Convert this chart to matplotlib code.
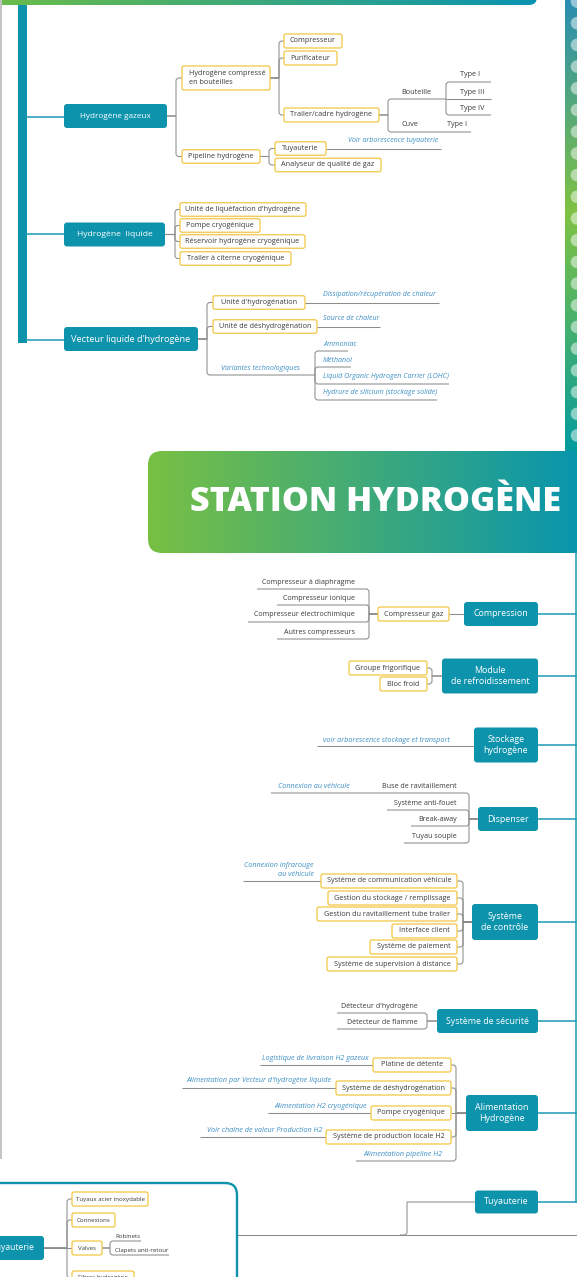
import numpy as np
import matplotlib
matplotlib.use("Agg")
import matplotlib.pyplot as plt
from matplotlib.patches import FancyBboxPatch, Rectangle, Circle, PathPatch
from matplotlib.path import Path
from matplotlib.colors import LinearSegmentedColormap

plt.rcParams['font.family'] = ['Open Sans', 'DejaVu Sans']

# ========================
# TEXT CONTENT
# ========================
TITLE = "STATION HYDROGÈNE"

gaz_root = "Hydrogène gazeux"
gaz_children = ["Hydrogène compressé\nen bouteilles", "Pipeline hydrogène"]
bottle_children = ["Compresseur", "Purificateur", "Trailer/cadre hydrogène"]
trailer_children = ["Bouteille", "Cuve"]
bouteille_types = ["Type I", "Type III", "Type IV"]
cuve_type = "Type I"
pipeline_children = ["Tuyauterie", "Analyseur de qualité de gaz"]
pipeline_note = "Voir arborescence tuyauterie"

liq_root = "Hydrogène  liquide"
liq_children = ["Unité de liquéfaction d'hydrogène", "Pompe cryogénique",
                "Réservoir hydrogène cryogénique", "Trailer à citerne cryogénique"]

vec_root = "Vecteur liquide d'hydrogène"
vec_children = ["Unité d'hydrogénation", "Unité de déshydrogénation"]
vec_notes = ["Dissipation/récupération de chaleur", "Source de chaleur"]
vec_variants_label = "Variantes technologiques"
vec_variants = ["Ammoniac", "Méthanol", "Liquid Organic Hydrogen Carrier (LOHC)",
                "Hydrure de silicium (stockage solide)"]

station_modules = ["Compression", "Module\nde refroidissement", "Stockage\nhydrogène",
                   "Dispenser", "Système\nde contrôle", "Système de sécurité",
                   "Alimentation\nHydrogène", "Tuyauterie"]
compression_box = "Compresseur gaz"
compression_types = ["Compresseur à diaphragme", "Compresseur ionique",
                     "Compresseur électrochimique", "Autres compresseurs"]
cooling_parts = ["Groupe frigorifique", "Bloc froid"]
storage_note = "voir arborescence stockage et transport"
dispenser_parts = ["Buse de ravitaillement", "Système anti-fouet", "Break-away", "Tuyau souple"]
dispenser_note = "Connexion au véhicule"
control_parts = ["Système de communication véhicule", "Gestion du stockage / remplissage",
                 "Gestion du ravitaillement tube trailer", "Interface client",
                 "Système de paiement", "Système de supervision à distance"]
control_note = "Connexion infrarouge\nau véhicule"
safety_parts = ["Détecteur d'hydrogène", "Détecteur de flamme"]
supply_parts = ["Platine de détente", "Système de déshydrogénation",
                "Pompe cryogénique", "Système de production locale H2"]
supply_notes = ["Logistique de livraison H2 gazeux",
                "Alimentation par Vecteur d'hydrogène liquide",
                "Alimentation H2 cryogénique", "Voir chaîne de valeur Production H2"]
supply_pipeline = "Alimentation pipeline H2"

pipe_root = "Tuyauterie"
pipe_parts = ["Tuyaux acier inoxydable", "Connexions", "Valves", "Filtres hydrogène"]
valve_parts = ["Robinets", "Clapets anti-retour"]

# ========================
# STYLE
# ========================
TEAL = "#0e93ad"
TEAL_LINE = "#1b9ab5"
YELLOW = "#f2c744"
GRAY = "#8c8c8c"
NOTE_BLUE = "#3d8fc4"
DARK = "#3a3a3a"
LW = 0.75

W, H = 577, 1277
fig = plt.figure(figsize=(W / 100, H / 100), dpi=100)
ax = fig.add_axes([0, 0, 1, 1])


def link(xp, yp, xb, yc, xc, color=GRAY, lw=LW, r=3.0):
    """parent edge (xp, yp) -> bracket at xb -> child y yc -> end xc"""
    verts = [(xp, yp), (xb, yp)]
    codes = [Path.MOVETO, Path.LINETO]
    rr = min(r, abs(yc - yp))
    if rr > 0.5:
        s = np.sign(yc - yp)
        d = np.sign(xc - xb)
        verts += [(xb, yc - s * rr), (xb, yc), (xb + d * rr, yc)]
        codes += [Path.LINETO, Path.CURVE3, Path.CURVE3]
    verts.append((xc, yc))
    codes.append(Path.LINETO)
    ax.add_patch(PathPatch(Path(verts, codes), fill=False, ec=color, lw=lw, zorder=2))


def box(x0, x1, yc, h, text, kind="yellow", fs=4.8, ha="center", pad=7):
    if kind == "teal":
        p = FancyBboxPatch((x0, yc - h / 2), x1 - x0, h,
                           boxstyle="round,pad=0,rounding_size=3",
                           fc=TEAL, ec="none", zorder=3)
        color = "white"
    else:
        p = FancyBboxPatch((x0, yc - h / 2), x1 - x0, h,
                           boxstyle="round,pad=0,rounding_size=2",
                           fc="white", ec=YELLOW, lw=0.9, zorder=3)
        color = DARK
    ax.add_patch(p)
    tx = (x0 + x1) / 2 if ha == "center" else x0 + pad
    ax.text(tx, yc, text, ha=ha, va="center", fontsize=fs, color=color,
            zorder=4, linespacing=1.35)


def label(x, y, text, fs=4.8, ha="left", note=False):
    ax.text(x, y, text, ha=ha, va="center", fontsize=fs,
            color=NOTE_BLUE if note else DARK,
            style="italic" if note else "normal", zorder=4, linespacing=1.3)


def hgrad(x0, x1, y0, y1, c0, c1, clip):
    cmap = LinearSegmentedColormap.from_list("g", [c0, c1])
    im = ax.imshow(np.linspace(0, 1, 256)[None, :], cmap=cmap, aspect="auto",
                   extent=(x0, x1, y1, y0), origin="upper", zorder=1)
    im.set_clip_path(clip)


# ========================
# FRAME / DECORATION
# ========================
# header band (bottom of previous banner)
band = FancyBboxPatch((-30, -30), 567, 35, boxstyle="round,pad=0,rounding_size=8",
                      fc="none", ec="none", transform=ax.transData)
ax.add_patch(band)
hgrad(-30, 537, -30, 5, "#6fbe44", "#0a93b2", band)

# light page border on the left
ax.plot([1, 1], [0, 1158], color="#c4c4c4", lw=1.4, zorder=1)

# dotted side strip on the right
strip_cmap = LinearSegmentedColormap.from_list(
    "s", [(0, "#2a8db2"), (0.47, "#80c242"), (1, "#069c9e")])
ax.imshow(np.linspace(0, 1, 256)[:, None], cmap=strip_cmap, aspect="auto",
          extent=(565, 577, 451, 0), origin="upper", zorder=1)
for k in range(21):
    ax.add_patch(Circle((577, 1.5 + 21.7 * k), 6.3, fc="white", ec="none",
                        alpha=0.5, zorder=2))

# ========================
# TOP SECTION
# ========================
ax.add_patch(Rectangle((18, 5), 8.5, 338, fc=TEAL, ec="none", zorder=2))
for yy in [117, 234, 340]:
    ax.plot([26, 64], [yy, yy], color=TEAL_LINE, lw=1.1, zorder=2)

FS_B = 5.2
FS_N = 5.1

# Hydrogène gazeux
box(64, 167, 116, 24, gaz_root, "teal", 5.9)
gaz_y = [78, 156.5]
for yc in gaz_y:
    link(167, 116, 176, yc, 182)
box(182, 270, 78, 24, gaz_children[0], ha="left", fs=FS_B)
box(182, 260, 156.5, 13.5, gaz_children[1], fs=FS_B)

bottle_y = [41, 58, 115]
bottle_x1 = [342, 337, 379]
for t, yc, x1 in zip(bottle_children, bottle_y, bottle_x1):
    link(270, 78, 279, yc, 284)
    box(284, x1, yc, 14, t, fs=FS_B)

trailer_y = [99, 132]
trailer_end = [446, 471]
for t, yc, xe in zip(trailer_children, trailer_y, trailer_end):
    link(379, 115, 388, yc, xe)
    label(401, yc - 7, t, fs=FS_B)
label(447, 125, cuve_type, fs=FS_B)
type_y = [82, 99, 115]
for t, yc in zip(bouteille_types, type_y):
    link(446, 99, 446, yc, 491)
    label(460, yc - 7, t, fs=FS_B)

pipe_y = [148.5, 165]
pipe_x1 = [326, 381]
for t, yc, x1 in zip(pipeline_children, pipe_y, pipe_x1):
    link(260, 156.5, 269, yc, 275)
    box(275, x1, yc, 13.5, t, fs=FS_B)
link(326, 148.5, 326, 148.5, 441)
label(348, 141, pipeline_note, fs=FS_N, note=True)

# Hydrogène liquide
box(64, 165, 234.5, 24, liq_root, "teal", 6.1)
liq_y = [209.5, 225.5, 241.5, 258.5]
liq_x1 = [306, 260, 305, 291]
for t, yc, x1 in zip(liq_children, liq_y, liq_x1):
    link(165, 234.5, 175, yc, 180)
    box(180, x1, yc, 13.5, t, fs=FS_B)

# Vecteur liquide d'hydrogène
box(64, 198, 339, 24, vec_root, "teal", 6.6)
vec_y = [302.5, 326.5]
vec_x1 = [305, 317]
vec_note_end = [439, 380]
for t, n, yc, x1, xe in zip(vec_children, vec_notes, vec_y, vec_x1, vec_note_end):
    link(198, 339, 207, yc, 213)
    box(213, x1, yc, 13.5, t, fs=FS_B)
    link(x1, yc, x1, yc, xe)
    label(323, yc - 7.5, n, fs=FS_N, note=True)
link(198, 339, 207, 375, 315)
label(221, 368, vec_variants_label, fs=FS_N, note=True)
var_y = [351, 367, 384, 400]
var_end = [348, 351, 449, 437]
for t, yc, xe in zip(vec_variants, var_y, var_end):
    link(315, 375, 315, yc, xe)
    label(323, yc - 7, t, fs=FS_N, note=True)

# ========================
# STATION BANNER
# ========================
banner = FancyBboxPatch((148, 451), 480, 102, boxstyle="round,pad=0,rounding_size=14",
                        fc="none", ec="none")
ax.add_patch(banner)
hgrad(148, 600, 451, 553, "#78c043", "#0393b3", banner)
title = ax.text(376, 502, TITLE, ha="center", va="center", color="white",
                fontsize=26, fontweight="heavy", zorder=4)
fig.canvas.draw()
tw = title.get_window_extent(fig.canvas.get_renderer()).width
title.set_fontsize(26 * 370 / tw)

# ========================
# STATION MODULES (right column)
# ========================
FS_M = 6.4
FS_C = 5.2
FS_L = 5.15
FS_CN = 5.2

mod_y = [614, 676, 745, 819, 922, 1021, 1113, 1202]
mod_x0 = [464, 442, 474, 478, 472, 437, 466, 475]
mod_h = [24, 35, 35, 24, 36, 24, 36, 23]
ax.plot([576, 576], [553, 1202], color=TEAL_LINE, lw=1.1, zorder=2)
for t, yc, x0, h in zip(station_modules, mod_y, mod_x0, mod_h):
    ax.plot([538, 576], [yc, yc], color=TEAL_LINE, lw=1.1, zorder=2)
    box(x0, 538, yc, h, t, "teal", FS_M)

# Compression
link(464, 614, 449, 614, 449)
box(378, 449, 614, 14, compression_box, fs=FS_C)
comp_y = [589, 605, 622, 639]
comp_end = [257, 277, 248, 277]
for t, yc, xe in zip(compression_types, comp_y, comp_end):
    link(378, 614, 369, yc, xe)
    label(355, yc - 7, t, fs=FS_L, ha="right")

# Module de refroidissement
cool_y = [668, 684]
cool_x0 = [349, 380]
for t, yc, x0 in zip(cooling_parts, cool_y, cool_x0):
    link(442, 676, 432, yc, 427)
    box(x0, 427, yc, 14, t, fs=FS_C)

# Stockage hydrogène
link(474, 746, 474, 746, 317)
label(450, 740, storage_note, fs=FS_CN, ha="right", note=True)

# Dispenser
disp_y = [793, 810, 826, 843]
disp_end = [271, 387, 411, 404]
for t, yc, xe in zip(dispenser_parts, disp_y, disp_end):
    link(478, 819, 469, yc, xe)
    label(457, yc - 6.5, t, fs=FS_L, ha="right")
label(278, 787, dispenser_note, fs=FS_CN, note=True)

# Système de contrôle
ctrl_y = [881, 898, 914, 931, 947, 964]
ctrl_x0 = [321, 328, 317, 392, 370, 327]
for t, yc, x0 in zip(control_parts, ctrl_y, ctrl_x0):
    link(472, 922, 463, yc, 457)
    box(x0, 457, yc, 14, t, fs=FS_C)
link(321, 881, 321, 881, 243)
label(314, 870, control_note, fs=FS_CN, ha="right", note=True)

# Système de sécurité
safe_y = [1013, 1029]
for t, yc in zip(safety_parts, safe_y):
    link(437, 1021, 427, yc, 337)
    label(418, yc - 7, t, fs=FS_L, ha="right")

# Alimentation hydrogène
sup_y = [1065, 1088, 1113, 1137]
sup_x0 = [373, 336, 371, 326]
sup_end = [260, 182, 268, 200]
for t, n, yc, x0, xe in zip(supply_parts, supply_notes, sup_y, sup_x0, sup_end):
    link(466, 1113, 456, yc, 451)
    box(x0, 451, yc, 14, t, fs=FS_C)
    link(x0, yc, x0, yc, xe)
    label(x0 - 4, yc - 7, n, fs=FS_CN, ha="right", note=True)
link(466, 1113, 456, 1161, 356)
label(443, 1154, supply_pipeline, fs=FS_CN, ha="right", note=True)

# Tuyauterie -> continuation panel
link(475, 1202, 407, 1235, 400)
ax.plot([237, 577], [1235, 1235], color=GRAY, lw=LW, zorder=2)

# ========================
# BOTTOM-LEFT PANEL (Tuyauterie tree, cut by the page edge)
# ========================
panel = Path([(-5, 1183), (225, 1183), (237, 1183), (237, 1195), (237, 1290)],
              [Path.MOVETO, Path.LINETO, Path.CURVE3, Path.CURVE3, Path.LINETO])
ax.add_patch(PathPatch(panel, fill=False, ec=TEAL, lw=1.7, zorder=2))

ax.add_patch(FancyBboxPatch((-40, 1236), 84, 24, boxstyle="round,pad=0,rounding_size=3",
                            fc=TEAL, ec="none", zorder=3))
ax.text(35, 1248, pipe_root, ha="right", va="center", fontsize=6.2, color="white", zorder=4)

part_y = [1199, 1220, 1248, 1278]
part_x1 = [148, 115, 102, 134]
for t, yc, x1 in zip(pipe_parts, part_y, part_x1):
    link(44, 1248, 67, yc, 72)
    box(72, x1, yc, 14, t, fs=4.4)
valve_y = [1241, 1255]
valve_end = [141, 169]
for t, yc, xe in zip(valve_parts, valve_y, valve_end):
    link(102, 1248, 110, yc, xe)
    label(115, yc - 4.5, t, fs=4.4)

ax.set_xlim(0, W)
ax.set_ylim(H, 0)
ax.axis("off")
fig.savefig("out.png", dpi=100)
